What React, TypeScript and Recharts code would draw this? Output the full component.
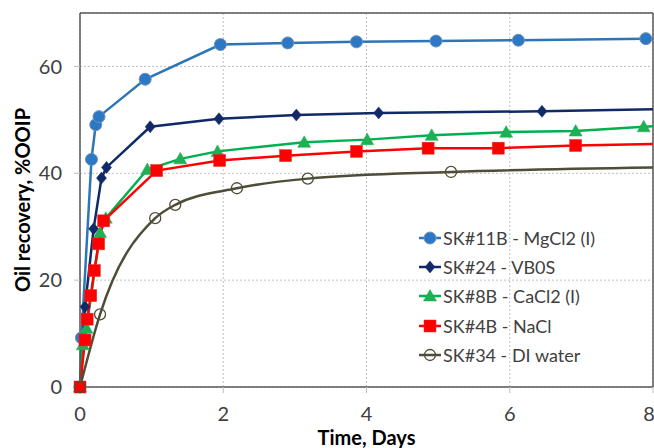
import React from "react";
import { LineChart, Line, XAxis, YAxis, CartesianGrid, ReferenceLine, Legend } from "recharts";

const mgTime = [0, 0.02, 0.16, 0.22, 0.265, 0.91, 1.96, 2.9, 3.86, 4.97, 6.12, 7.9, 8];
const mgRec = [0, 9.2, 42.6, 49.1, 50.6, 57.6, 64.1, 64.4, 64.6, 64.75, 64.9, 65.2, 65.2];

const vbTime = [0, 0.07, 0.19, 0.3, 0.37, 0.98, 1.94, 3.02, 4.17, 6.45, 8];
const vbRec = [0, 15, 29.6, 39.1, 41.1, 48.7, 50.2, 50.9, 51.3, 51.6, 52.0];

const caTime = [0, 0.04, 0.09, 0.28, 0.36, 0.94, 1.4, 1.92, 3.13, 4.01, 4.91, 5.95, 6.92, 7.87, 8];
const caRec = [0, 7.9, 11, 28.9, 31.6, 40.7, 42.7, 44.1, 45.8, 46.3, 47.1, 47.7, 47.9, 48.7, 48.8];

const naTime = [0, 0.07, 0.1, 0.15, 0.2, 0.26, 0.33, 1.07, 1.95, 2.87, 3.86, 4.86, 5.84, 6.92, 8];
const naRec = [0, 8.8, 12.7, 17.1, 21.8, 26.8, 31.1, 40.5, 42.4, 43.3, 44.1, 44.7, 44.7, 45.2, 45.5];

const diTime = [0, 0.28, 1.05, 1.33, 2.19, 3.18, 5.18, 8];
const diRec = [0, 13.6, 31.6, 34.1, 37.2, 39.0, 40.25, 41.1];

const xTicks = [0, 2, 4, 6, 8];
const yTicks = [0, 20, 40, 60];

const seriesNames = [
  "SK#11B - MgCl2 (I)",
  "SK#24 - VB0S",
  "SK#8B - CaCl2 (I)",
  "SK#4B - NaCl",
  "SK#34 - DI water",
];

const toData = (ts: number[], vs: number[]) => ts.map((t, i) => ({ t, v: vs[i] }));
const mgData = toData(mgTime, mgRec);
const vbData = toData(vbTime, vbRec);
const caData = toData(caTime, caRec);
const naData = toData(naTime, naRec);
const diData = toData(diTime, diRec);

const C = {
  blue: "#2E75B6",
  blueFill: "#2B78C5",
  navy: "#0F2A66",
  green: "#00B050",
  red: "#FF0000",
  di: "#4F4C38",
  axis: "#595959",
  grid: "#BFBFBF",
  text: "#404040",
};

const FONT = "Lato, 'Open Sans', sans-serif";

type Kind = "circle" | "diamond" | "triangle" | "square" | "open";

function marker(kind: Kind, cx: number, cy: number, key?: string) {
  switch (kind) {
    case "circle":
      return <circle key={key} cx={cx} cy={cy} r={6} fill={C.blueFill} stroke="#7090B8" strokeWidth={1} />;
    case "diamond":
      return (
        <path key={key} d={`M${cx},${cy - 6} L${cx + 5},${cy} L${cx},${cy + 6} L${cx - 5},${cy} Z`} fill={C.navy} stroke={C.navy} strokeWidth={0.5} />
      );
    case "triangle":
      return (
        <path key={key} d={`M${cx},${cy - 6.5} L${cx + 6.5},${cy + 5} L${cx - 6.5},${cy + 5} Z`} fill="#1DB054" stroke="#1DB054" strokeWidth={0.5} />
      );
    case "square":
      return <rect key={key} x={cx - 6} y={cy - 6} width={12} height={12} fill={C.red} stroke="#E03030" strokeWidth={0.5} />;
    case "open":
      return <circle key={key} cx={cx} cy={cy} r={5.5} fill="none" stroke={C.di} strokeWidth={1.3} />;
  }
}

// the last point of each series only carries the line to the plot edge
const makeDot = (kind: Kind, count: number) => (props: any) => {
  const { cx, cy, index } = props;
  if (cx == null || cy == null || index === count - 1) return <g key={`e-${kind}-${index}`} />;
  return marker(kind, cx, cy, `m-${kind}-${index}`);
};

const legendItems: { name: string; color: string; kind: Kind }[] = [
  { name: seriesNames[0], color: C.blue, kind: "circle" },
  { name: seriesNames[1], color: C.navy, kind: "diamond" },
  { name: seriesNames[2], color: C.green, kind: "triangle" },
  { name: seriesNames[3], color: C.red, kind: "square" },
  { name: seriesNames[4], color: C.di, kind: "open" },
];

const LegendContent = () => (
  <div style={{ fontFamily: FONT, fontSize: 18, color: C.text }}>
    {legendItems.map((it) => (
      <div key={it.name} style={{ display: "flex", alignItems: "center", height: 29.3 }}>
        <svg width={24} height={16} style={{ marginRight: 1 }}>
          <line x1={1} y1={8} x2={23} y2={8} stroke={it.color} strokeWidth={2.5} />
          {marker(it.kind, 12, 8)}
        </svg>
        <span style={{ lineHeight: "20px" }}>{it.name}</span>
      </div>
    ))}
  </div>
);

export default function App() {
  return (
    <div style={{ position: "absolute", left: 0, top: 0, width: 654, height: 448, background: "#fff" }}>
      <LineChart width={654} height={448} margin={{ top: 13, right: 1, left: 0, bottom: 0 }}>
        <CartesianGrid stroke={C.grid} strokeDasharray="2 2" />
        <XAxis
          dataKey="t"
          type="number"
          domain={[0, 8]}
          ticks={xTicks}
          height={61}
          axisLine={{ stroke: C.axis, strokeWidth: 1.5 }}
          tickLine={{ stroke: C.grid }}
          tickSize={6}
          tickMargin={14}
          tick={{ fill: C.text, fontSize: 20, fontFamily: FONT }}
          label={{ value: "Time, Days", position: "insideBottom", offset: 3, fill: "#000", fontSize: 20, fontWeight: 700, fontFamily: FONT }}
        />
        <YAxis
          type="number"
          domain={[0, 70]}
          ticks={yTicks}
          width={80}
          axisLine={{ stroke: C.axis, strokeWidth: 1.5 }}
          tickLine={{ stroke: C.grid }}
          tickSize={6}
          tickMargin={12}
          tick={{ fill: C.text, fontSize: 20, fontFamily: FONT }}
          label={{ value: "Oil recovery, %OOIP", angle: -90, position: "insideLeft", offset: 23, fill: "#000", fontSize: 20, fontWeight: 700, fontFamily: FONT, style: { textAnchor: "middle" } }}
        />
        <ReferenceLine y={70} stroke={C.axis} strokeWidth={1.5} />
        <ReferenceLine x={8} stroke={C.axis} strokeWidth={1.5} />
        <Line data={mgData} dataKey="v" name={seriesNames[0]} stroke={C.blue} strokeWidth={2.5} dot={makeDot("circle", mgData.length)} isAnimationActive={false} />
        <Line data={vbData} dataKey="v" name={seriesNames[1]} stroke={C.navy} strokeWidth={2.5} dot={makeDot("diamond", vbData.length)} isAnimationActive={false} />
        <Line data={caData} dataKey="v" name={seriesNames[2]} stroke={C.green} strokeWidth={2.5} dot={makeDot("triangle", caData.length)} isAnimationActive={false} />
        <Line data={naData} dataKey="v" name={seriesNames[3]} stroke={C.red} strokeWidth={2.5} dot={makeDot("square", naData.length)} isAnimationActive={false} />
        <Line data={diData} dataKey="v" name={seriesNames[4]} type="monotone" stroke={C.di} strokeWidth={2.5} dot={makeDot("open", diData.length)} isAnimationActive={false} />
        <Legend
          layout="vertical"
          align="center"
          verticalAlign="middle"
          content={LegendContent}
          wrapperStyle={{ left: 418, top: 223, width: 230, height: 150 }}
        />
      </LineChart>
    </div>
  );
}
